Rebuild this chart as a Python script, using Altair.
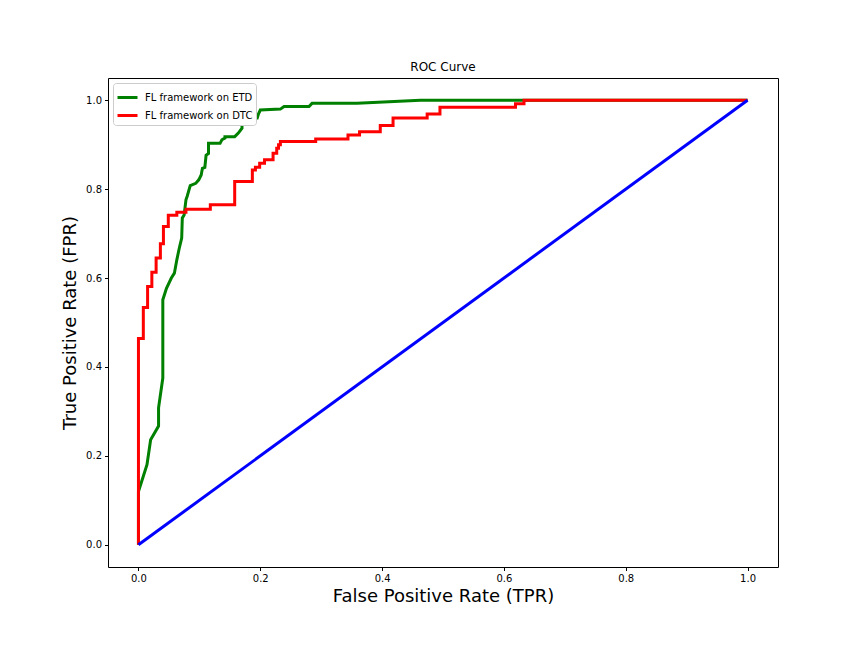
import altair as alt
import pandas as pd

etd_fpr = [0.000, 0.000, 0.014, 0.020, 0.033, 0.033, 0.040, 0.040, 0.046, 0.054, 0.059, 0.063,
           0.067, 0.071, 0.072, 0.075, 0.078, 0.080, 0.085, 0.094, 0.099, 0.103, 0.105, 0.109,
           0.111, 0.115, 0.115, 0.134, 0.137, 0.142, 0.142, 0.158, 0.164, 0.170, 0.170, 0.195,
           0.197, 0.200, 0.233, 0.239, 0.280, 0.285, 0.359, 0.463, 1.000]
etd_tpr = [0.000, 0.120, 0.180, 0.236, 0.267, 0.308, 0.375, 0.551, 0.577, 0.600, 0.611, 0.641,
           0.667, 0.690, 0.735, 0.742, 0.776, 0.784, 0.808, 0.813, 0.821, 0.832, 0.847, 0.849,
           0.876, 0.880, 0.903, 0.903, 0.911, 0.915, 0.918, 0.918, 0.926, 0.937, 0.960, 0.960,
           0.969, 0.978, 0.980, 0.986, 0.986, 0.993, 0.993, 1.000, 1.000]

dtc_fpr = [0.000, 0.000, 0.008, 0.008, 0.015, 0.015, 0.022, 0.022, 0.029, 0.029, 0.036, 0.036,
           0.041, 0.041, 0.049, 0.049, 0.063, 0.063, 0.078, 0.078, 0.118, 0.118, 0.158, 0.158,
           0.187, 0.187, 0.192, 0.192, 0.199, 0.199, 0.207, 0.207, 0.221, 0.221, 0.227, 0.227,
           0.230, 0.230, 0.233, 0.233, 0.291, 0.291, 0.344, 0.344, 0.363, 0.363, 0.397, 0.397,
           0.418, 0.418, 0.474, 0.474, 0.495, 0.495, 0.619, 0.619, 0.633, 0.633, 1.000]
dtc_tpr = [0.000, 0.464, 0.464, 0.534, 0.534, 0.581, 0.581, 0.613, 0.613, 0.645, 0.645, 0.677,
           0.677, 0.716, 0.716, 0.741, 0.741, 0.748, 0.748, 0.755, 0.755, 0.765, 0.765, 0.817,
           0.817, 0.843, 0.843, 0.849, 0.849, 0.858, 0.858, 0.866, 0.866, 0.881, 0.881, 0.892,
           0.892, 0.900, 0.900, 0.907, 0.907, 0.913, 0.913, 0.922, 0.922, 0.929, 0.929, 0.943,
           0.943, 0.960, 0.960, 0.969, 0.969, 0.984, 0.984, 0.992, 0.992, 1.000, 1.000]

diag_fpr = [0.0, 1.0]
diag_tpr = [0.0, 1.0]

series_names = ["FL framework on ETD", "FL framework on DTC"]
series_colors = ["green", "red"]

rows = []
for name, xs, ys in [(series_names[0], etd_fpr, etd_tpr), (series_names[1], dtc_fpr, dtc_tpr)]:
    for i, (a, b) in enumerate(zip(xs, ys)):
        rows.append({"series": name, "fpr": a, "tpr": b, "idx": i})
df = pd.DataFrame(rows)
diag = pd.DataFrame({"fpr": diag_fpr, "tpr": diag_tpr, "idx": [0, 1]})

FONT = "DejaVu Sans"
ticks = [0.0, 0.2, 0.4, 0.6, 0.8, 1.0]

xenc = alt.X("fpr:Q", scale=alt.Scale(domain=[-0.05, 1.05], nice=False, zero=False),
             axis=alt.Axis(title="False Positive Rate (TPR)", values=ticks, format=".1f",
                           titleFontSize=18, titlePadding=4))
yenc = alt.Y("tpr:Q", scale=alt.Scale(domain=[-0.05, 1.05], nice=False, zero=False),
             axis=alt.Axis(title="True Positive Rate (FPR)", values=ticks, format=".1f",
                           titleFontSize=18, titlePadding=6))

lines = alt.Chart(df).mark_line(strokeWidth=3).encode(
    x=xenc, y=yenc,
    color=alt.Color("series:N",
                    scale=alt.Scale(domain=series_names, range=series_colors),
                    legend=alt.Legend(title=None, orient="none", legendX=5, legendY=5,
                                      symbolType="stroke", symbolSize=400, symbolStrokeWidth=3,
                                      labelFontSize=10, labelFont=FONT, fillColor="white",
                                      strokeColor="#cccccc", padding=3, cornerRadius=3,
                                      rowPadding=0, labelOffset=6, labelColor="black")),
    order="idx:Q",
)

blue = alt.Chart(diag).mark_line(strokeWidth=3, color="blue").encode(
    x="fpr:Q", y="tpr:Q", order="idx:Q"
)

chart = alt.layer(lines, blue).properties(
    width=670, height=489,
    padding={"left": 100, "top": 70, "right": 70, "bottom": 60},
    autosize=alt.AutoSizeParams(type="none"),
    background="white",
    title=alt.TitleParams("ROC Curve", fontSize=12, fontWeight="normal", font=FONT,
                          offset=4, anchor="middle", color="black"),
).configure_axis(
    grid=False, domain=False, tickColor="black", tickSize=3.5, labelFontSize=10,
    labelFont=FONT, titleFont=FONT, titleFontWeight="normal", labelColor="black",
    titleColor="black", labelPadding=3,
).configure_view(stroke="black", strokeWidth=1)

chart.save("out.html", embed_options={"renderer": "svg", "actions": False})
